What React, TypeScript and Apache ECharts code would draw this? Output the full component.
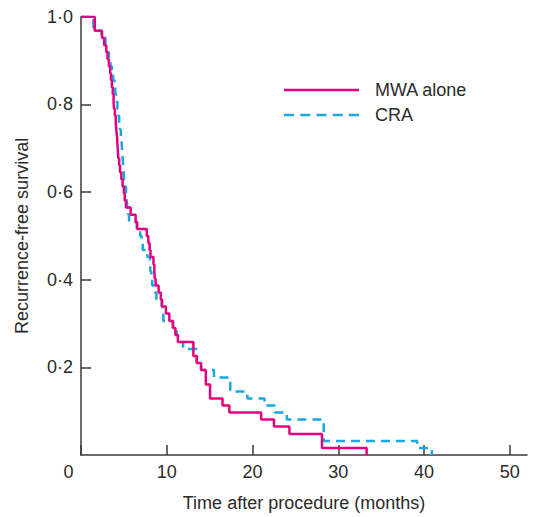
import React, { useEffect, useRef } from "react";
import * as echarts from "echarts";

// Kaplan–Meier step points (time in months, survival after the drop)
const mwaTimes = [0, 1.6, 2.45, 2.7, 2.95, 3.1, 3.25, 3.4, 3.5, 3.6, 3.7, 3.8, 3.85, 3.95, 4.05, 4.12, 4.2, 4.25, 4.3, 4.35, 4.45, 4.55, 4.7, 4.85, 5.0, 5.1, 5.24, 5.79, 6.37, 6.55, 7.67, 7.85, 8.0, 8.1, 8.45, 8.55, 8.6, 8.7, 9.05, 9.3, 9.45, 9.9, 10.3, 10.7, 11.0, 11.3, 13.1, 13.5, 14.0, 14.55, 15.05, 16.5, 17.3, 21.0, 22.5, 24.3, 28.1, 33.3];
const mwaSurvival = [1.0, 0.968, 0.952, 0.935, 0.919, 0.903, 0.887, 0.871, 0.855, 0.839, 0.823, 0.806, 0.79, 0.774, 0.758, 0.742, 0.726, 0.71, 0.694, 0.677, 0.661, 0.645, 0.629, 0.613, 0.597, 0.581, 0.565, 0.548, 0.532, 0.516, 0.5, 0.484, 0.468, 0.452, 0.435, 0.419, 0.403, 0.387, 0.371, 0.355, 0.339, 0.323, 0.306, 0.29, 0.274, 0.258, 0.226, 0.21, 0.194, 0.161, 0.129, 0.113, 0.097, 0.081, 0.065, 0.048, 0.016, 0];

const craTimes = [0, 1.45, 2.4, 2.85, 3.05, 3.25, 3.45, 3.6, 3.75, 3.9, 4.0, 4.1, 4.25, 4.35, 4.45, 4.55, 4.65, 4.74, 4.8, 4.86, 4.92, 4.98, 5.03, 5.12, 5.25, 5.32, 5.4, 5.5, 5.6, 6.5, 6.9, 7.07, 7.2, 7.73, 8.04, 8.1, 8.2, 8.3, 8.62, 8.8, 9.4, 9.5, 9.6, 10.76, 11.15, 11.3, 11.9, 13.5, 14.0, 15.5, 17.4, 19.4, 21.4, 22.6, 24.0, 28.3, 39.2, 40.9];
const craSurvival = [1.0, 0.968, 0.952, 0.935, 0.919, 0.903, 0.887, 0.871, 0.855, 0.839, 0.823, 0.806, 0.79, 0.774, 0.758, 0.742, 0.726, 0.71, 0.694, 0.677, 0.661, 0.645, 0.629, 0.613, 0.597, 0.581, 0.565, 0.548, 0.532, 0.516, 0.5, 0.484, 0.468, 0.452, 0.435, 0.419, 0.403, 0.387, 0.371, 0.355, 0.339, 0.323, 0.306, 0.29, 0.274, 0.258, 0.242, 0.21, 0.194, 0.177, 0.145, 0.129, 0.113, 0.097, 0.081, 0.032, 0.016, 0];

const seriesNames = ["MWA alone", "CRA"];
const xTickValues = [0, 10, 20, 30, 40, 50];
const yTickValues = [0, 0.2, 0.4, 0.6, 0.8, 1.0];

const FONT = "'Liberation Sans', Arial, Helvetica, sans-serif";
const TEXT = "#2a2a2a";
const AXIS = "#3a3a3a";
const MAGENTA = "#E5007D";
const CYAN = "#19A9E2";

const SOLID_ICON = "path://M0,0h75v2.5h-75z";
const DASH_ICON =
  "path://M0,0h10v2.5h-10zM16.25,0h10v2.5h-10zM32.5,0h10v2.5h-10zM48.75,0h10v2.5h-10zM65,0h10v2.5h-10z";

export default function App() {
  const ref = useRef<HTMLDivElement>(null);

  useEffect(() => {
    if (!ref.current) return;
    const chart = echarts.init(ref.current, null, { renderer: "svg" });
    const pair = (ts: number[], ss: number[]) => ts.map((t, i) => [t, ss[i]]);

    chart.setOption({
      animation: false,
      textStyle: { fontFamily: FONT },
      grid: { left: 81, top: 16.8, right: 9, bottom: 58.7, containLabel: false },
      legend: {
        orient: "vertical",
        left: 284,
        top: 81,
        padding: 0,
        itemWidth: 75,
        itemHeight: 2.5,
        itemGap: 7,
        data: [
          { name: seriesNames[0], icon: SOLID_ICON },
          { name: seriesNames[1], icon: DASH_ICON },
        ],
        textStyle: {
          fontFamily: FONT,
          fontSize: 18,
          color: TEXT,
          lineHeight: 18,
          padding: [0, 0, 0, 11],
        },
      },
      xAxis: {
        type: "value",
        min: 0,
        max: 52,
        interval: 10,
        name: "Time after procedure (months)",
        nameLocation: "middle",
        nameGap: 39,
        nameTextStyle: { fontFamily: FONT, fontSize: 18, color: TEXT },
        splitLine: { show: false },
        axisLine: { lineStyle: { color: AXIS, width: 1.5 } },
        axisTick: {
          inside: true,
          length: 10,
          customValues: xTickValues,
          lineStyle: { color: AXIS, width: 1.5 },
        },
        axisLabel: {
          customValues: xTickValues,
          margin: 8,
          fontFamily: FONT,
          fontSize: 18,
          color: TEXT,
          formatter: (v: number) => (v === 0 ? "{z|0}" : String(v)),
          rich: {
            z: { fontFamily: FONT, fontSize: 18, color: TEXT, padding: [0, 25, 0, 0] },
          },
        },
      },
      yAxis: {
        type: "value",
        min: 0,
        max: 1,
        interval: 0.2,
        name: "Recurrence-free survival",
        nameLocation: "middle",
        nameGap: 50,
        nameTextStyle: { fontFamily: FONT, fontSize: 18, color: TEXT },
        splitLine: { show: false },
        axisLine: { lineStyle: { color: AXIS, width: 1.5 } },
        axisTick: {
          inside: true,
          length: 10,
          customValues: yTickValues,
          lineStyle: { color: AXIS, width: 1.5 },
        },
        axisLabel: {
          margin: 8,
          fontFamily: FONT,
          fontSize: 18,
          color: TEXT,
          showMinLabel: false,
          formatter: (v: number) => (v === 0 ? "" : v.toFixed(1).replace(".", "·")),
        },
      },
      series: [
        {
          name: seriesNames[0],
          type: "line",
          step: "end",
          symbol: "none",
          data: pair(mwaTimes, mwaSurvival),
          lineStyle: { color: MAGENTA, width: 2.5 },
          itemStyle: { color: MAGENTA },
          z: 3,
        },
        {
          name: seriesNames[1],
          type: "line",
          step: "end",
          symbol: "none",
          data: pair(craTimes, craSurvival),
          lineStyle: { color: CYAN, width: 2.5, type: [9, 6] },
          itemStyle: { color: CYAN },
          z: 2,
        },
      ],
    });
    return () => chart.dispose();
  }, []);

  return (
    <div
      ref={ref}
      style={{ position: "absolute", left: 0, top: 0, width: 536, height: 517, background: "#fff" }}
    />
  );
}
